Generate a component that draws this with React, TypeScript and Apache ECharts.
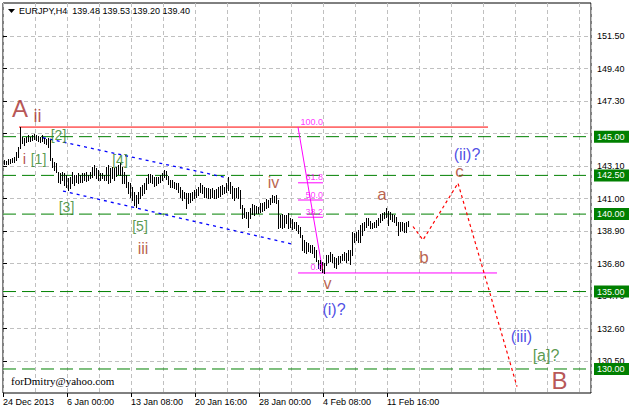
import React, { useEffect, useRef } from 'react';
import * as echarts from 'echarts';

// ---- data ----
const barHigh = [
  143.49, 143.43, 143.56, 143.56, 143.62, 143.69, 144.01, 144.33, 145.62, 144.98,
  144.91, 144.98, 145.11, 144.98, 145.11, 145.17, 145.11, 145.04, 144.98, 145.11,
  144.91, 144.85, 144.91, 144.79, 143.62, 143.37, 143.30, 142.72, 142.66, 142.72,
  142.66, 142.53, 142.33, 142.40, 142.72, 142.53, 142.53, 142.66, 142.53, 142.66,
  142.66, 142.72, 142.53, 142.72, 143.04, 143.17, 142.98, 142.85, 142.66, 142.66,
  142.53, 143.04, 143.17, 142.98, 143.04, 142.98, 143.04, 143.17, 143.30, 143.04,
  142.72, 142.53, 142.07, 142.01, 141.75, 141.43, 141.24, 141.43, 141.75, 141.88,
  142.01, 142.33, 142.59, 142.59, 142.53, 142.40, 142.40, 142.40, 142.53, 142.66,
  142.85, 142.78, 142.46, 142.20, 142.20, 142.07, 142.01, 142.01, 141.75, 141.56,
  141.43, 141.36, 141.36, 141.36, 141.43, 141.56, 141.62, 141.75, 142.01, 141.88,
  141.75, 141.69, 141.69, 141.62, 141.69, 141.56, 141.62, 141.75, 141.82, 141.88,
  141.75, 142.01, 142.40, 142.07, 141.82, 141.69, 141.69, 141.75, 141.56, 140.59,
  140.40, 140.14, 140.14, 140.40, 140.65, 140.59, 140.53, 140.46, 140.72, 140.72,
  140.78, 140.98, 140.91, 141.04, 141.24, 141.17, 141.24, 140.91, 139.94, 140.01,
  139.94, 139.94, 140.07, 139.75, 139.69, 139.49, 139.49, 139.30, 139.17, 138.65,
  138.33, 138.20, 138.14, 138.01, 138.01, 137.88, 137.68, 137.04, 137.04, 136.91,
  136.84, 137.36, 137.36, 137.55, 137.43, 137.23, 137.17, 137.30, 137.30, 137.43,
  137.55, 137.49, 137.68, 137.68, 138.85, 138.78, 138.85, 138.98, 139.30, 139.43,
  139.49, 139.75, 139.75, 139.56, 139.43, 139.49, 139.62, 139.75, 140.01, 140.07,
  140.14, 140.40, 140.20, 140.14, 140.01, 139.94, 139.81, 139.49, 139.49, 139.49,
  139.43, 139.49, 139.53,
];
const barLow = [
  143.24, 143.24, 143.24, 143.30, 143.37, 143.37, 143.49, 143.69, 144.27, 144.59,
  144.46, 144.66, 144.72, 144.72, 144.79, 144.85, 144.79, 144.72, 144.66, 144.72,
  144.59, 144.53, 144.33, 143.49, 143.04, 142.85, 142.72, 142.07, 142.01, 142.20,
  141.88, 141.75, 141.56, 141.69, 142.01, 141.88, 142.07, 142.01, 142.07, 142.07,
  142.20, 142.14, 142.20, 142.33, 142.40, 142.53, 142.33, 142.20, 142.20, 142.33,
  142.20, 142.20, 142.01, 142.07, 142.33, 142.20, 142.46, 142.59, 142.53, 142.01,
  142.01, 141.75, 141.36, 141.11, 140.91, 140.59, 140.46, 140.72, 141.04, 141.24,
  141.36, 141.62, 142.01, 142.07, 142.01, 141.82, 141.88, 142.01, 142.07, 142.20,
  142.40, 142.27, 141.95, 141.75, 141.75, 141.69, 141.62, 141.43, 141.11, 140.91,
  141.04, 140.40, 140.72, 140.78, 140.91, 141.04, 141.11, 141.24, 141.43, 141.36,
  141.11, 141.11, 141.04, 141.04, 141.11, 141.04, 141.04, 141.11, 141.17, 141.30,
  141.36, 141.43, 141.56, 141.36, 141.04, 140.91, 141.11, 141.04, 140.40, 139.75,
  139.81, 139.75, 139.17, 139.75, 140.01, 139.94, 140.07, 140.07, 140.14, 140.20,
  140.27, 140.40, 140.46, 140.65, 140.78, 140.78, 140.72, 139.10, 139.17, 139.10,
  139.17, 139.43, 139.10, 139.17, 139.04, 139.10, 138.98, 138.78, 138.52, 137.68,
  137.55, 137.49, 137.62, 137.55, 137.49, 137.23, 136.97, 136.52, 136.39, 136.26,
  136.20, 136.72, 136.91, 136.97, 136.91, 136.59, 136.52, 136.78, 136.91, 137.04,
  137.04, 136.91, 137.04, 136.78, 137.36, 138.20, 138.33, 138.20, 138.20, 138.65,
  138.98, 139.17, 139.30, 139.10, 139.10, 139.17, 139.17, 139.30, 139.49, 139.62,
  139.75, 139.81, 139.30, 139.69, 139.56, 139.49, 139.30, 138.65, 138.91, 138.98,
  138.85, 138.85, 139.20,
];
const lastBarOHLC = ['139.48', '139.53', '139.20', '139.40'];
const symbolName = 'EURJPY,H4';

const xTickIndex = [0, 32, 64, 96, 128, 160, 192];
const xTickLabels = ['24 Dec 2013', '6 Jan 00:00', '13 Jan 08:00', '20 Jan 16:00', '28 Jan 00:00', '4 Feb 08:00', '11 Feb 16:00'];
const yTicks = [130.5, 132.6, 134.7, 136.8, 138.9, 141.0, 143.1, 145.2, 147.3, 149.4, 151.5];

const levelPrices = [145.0, 142.5, 140.0, 135.0, 130.0];

const redLine = [[8, 145.62], [242.5, 145.62]];
const fibHigh = 145.62;
const fibLow = 136.2;
const fibFromIdx = 147.5;
const fibToIdx = 160;
const fibZeroEndIdx = 247;
const fibRatios = [0.382, 0.5, 0.618];
const fibLabels = [
  { text: '100.0', ratio: 1 },
  { text: '61.8', ratio: 0.618 },
  { text: '50.0', ratio: 0.5 },
  { text: '38.2', ratio: 0.382 },
  { text: '0.0', ratio: 0 },
];
const channelUpper = [[20, 144.93], [111.5, 142.36]];
const channelLower = [[30, 141.49], [145.5, 138.04]];
const projection = [[205, 139.2], [210, 138.33], [227.5, 142.0], [257, 128.86]];

const BROWN = '#A52A2A';
const BROWN2 = '#A83A22';
const GREEN_T = '#2F7F1F';
const BLUE_T = '#2222DD';

const waveLabels = [
  { text: 'A', i: 8.5, p: 146.85, color: BROWN, size: 24 },
  { text: 'ii', i: 17.25, p: 146.33, color: BROWN, size: 18 },
  { text: 'i', i: 10.75, p: 143.59, color: BROWN, size: 15 },
  { text: '[1]', i: 17.75, p: 143.53, color: GREEN_T, size: 14 },
  { text: '[2]', i: 27.75, p: 145.11, color: GREEN_T, size: 14 },
  { text: '[3]', i: 31.75, p: 140.49, color: GREEN_T, size: 14 },
  { text: '[4]', i: 58.5, p: 143.49, color: GREEN_T, size: 14 },
  { text: '[5]', i: 68.5, p: 139.23, color: GREEN_T, size: 14 },
  { text: 'iii', i: 70, p: 137.81, color: BROWN2, size: 16 },
  { text: 'iv', i: 135.25, p: 142.07, color: BROWN2, size: 16 },
  { text: 'v', i: 162.25, p: 135.49, color: BROWN2, size: 16 },
  { text: '(i)?', i: 165.5, p: 133.81, color: BLUE_T, size: 16 },
  { text: 'a', i: 189.5, p: 141.24, color: BROWN2, size: 17 },
  { text: 'b', i: 210.5, p: 137.23, color: BROWN2, size: 17 },
  { text: 'c', i: 228.25, p: 142.78, color: BROWN2, size: 17 },
  { text: '(ii)?', i: 232, p: 143.82, color: BLUE_T, size: 16 },
  { text: '(iii)', i: 259.25, p: 132.07, color: BLUE_T, size: 16 },
  { text: '[a]?', i: 271.5, p: 130.84, color: GREEN_T, size: 16 },
  { text: 'B', i: 278.25, p: 129.23, color: BROWN, size: 24 },
];

const FONT = '"Liberation Sans", Arial, sans-serif';

function lineSeries(data: number[][], color: string, type: any, width = 1, z = 3) {
  return {
    type: 'line',
    data,
    symbol: 'none',
    silent: true,
    z,
    lineStyle: { color, width, type },
    animation: false,
  };
}

export default function App() {
  const ref = useRef<HTMLDivElement>(null);
  useEffect(() => {
    document.body.style.margin = '0';
    const chart = echarts.init(ref.current!, null, { renderer: 'svg' });
    const range = fibHigh - fibLow;
    const series: any[] = [];

    levelPrices.forEach((lv) => {
      series.push({
        ...lineSeries([[0, lv], [294, lv]], '#008000', [13, 6], 1, 2),
        endLabel: {
          show: true,
          formatter: lv.toFixed(2),
          color: '#ffffff',
          backgroundColor: '#008000',
          fontSize: 9,
          fontFamily: FONT,
          lineHeight: 11,
          padding: [1, 6, 0, 3],
          distance: 3,
        },
      });
    });

    series.push(lineSeries(redLine, '#FF0000', 'solid', 1, 4));
    series.push(lineSeries([[fibFromIdx, fibHigh], [fibToIdx, fibLow]], '#FF00FF', 'solid', 1, 4));
    fibRatios.forEach((r) => {
      const v = fibLow + range * r;
      series.push(lineSeries([[fibFromIdx, v], [fibToIdx, v]], '#FF00FF', 'solid', 1, 4));
    });
    series.push(lineSeries([[fibFromIdx, fibLow], [fibZeroEndIdx, fibLow]], '#FF00FF', 'solid', 1, 4));
    series.push(lineSeries(channelUpper, '#0000FF', [3, 4], 1.3, 4));
    series.push(lineSeries(channelLower, '#0000FF', [3, 4], 1.3, 4));
    series.push(lineSeries(projection, '#FF0000', [3, 3], 1.2, 4));

    series.push({
      type: 'custom',
      z: 5,
      silent: true,
      data: barHigh.map((h, i) => [i, barLow[i], h]),
      renderItem: (params: any, api: any) => {
        const i = api.value(0);
        const lo = api.coord([i, api.value(1)]);
        const hi = api.coord([i, api.value(2)]);
        const x = Math.round(lo[0]) + 1.5;
        return {
          type: 'line',
          shape: { x1: x, y1: Math.round(lo[1]) + 1, x2: x, y2: Math.round(hi[1]) },
          style: { stroke: '#000', lineWidth: 1 },
        };
      },
    });

    series.push({
      type: 'scatter',
      z: 6,
      silent: true,
      symbolSize: 1,
      itemStyle: { color: 'transparent' },
      data: waveLabels.map((w) => ({
        value: [w.i, w.p],
        label: {
          show: true,
          position: 'inside',
          formatter: w.text,
          color: w.color,
          fontSize: w.size,
          fontFamily: FONT,
        },
      })),
    });

    series.push({
      type: 'scatter',
      z: 6,
      silent: true,
      symbolSize: 1,
      itemStyle: { color: 'transparent' },
      data: fibLabels.map((f) => ({
        value: [fibToIdx, fibLow + range * f.ratio],
        label: {
          show: true,
          position: 'inside',
          align: 'right',
          verticalAlign: 'bottom',
          offset: [0, -1],
          formatter: f.text,
          color: '#FF00FF',
          fontSize: 9,
          fontFamily: FONT,
        },
      })),
    });

    const option: any = {
      animation: false,
      backgroundColor: '#ffffff',
      grid: {
        left: 3, top: 3, width: 588, height: 390,
        show: true, borderColor: '#000', borderWidth: 1, backgroundColor: 'transparent',
      },
      xAxis: [
        {
          type: 'value', min: 0, max: 294, interval: 16, position: 'bottom',
          axisLine: { show: false }, axisTick: { show: false }, axisLabel: { show: false },
          splitLine: { show: true, lineStyle: { color: '#C0C0C0', type: [4, 3], width: 1 } },
        },
        {
          type: 'value', min: 0, max: 294, position: 'bottom',
          axisLine: { show: false },
          axisTick: { show: true, customValues: xTickIndex, length: 4, lineStyle: { color: '#000' } },
          axisLabel: {
            show: true, customValues: xTickIndex,
            formatter: (v: number) => xTickLabels[xTickIndex.indexOf(v)] ?? '',
            align: 'left', margin: 4, color: '#000', fontSize: 9, fontFamily: FONT,
          },
          splitLine: { show: false },
        },
      ],
      yAxis: {
        type: 'value', position: 'right', min: 128.45, max: 153.63, scale: true,
        axisLine: { show: false },
        axisTick: { show: true, customValues: yTicks, length: 4, lineStyle: { color: '#000' } },
        axisLabel: {
          customValues: yTicks, formatter: (v: number) => v.toFixed(2),
          margin: 6, color: '#000', fontSize: 9, fontFamily: FONT,
        },
        splitLine: { show: true, lineStyle: { color: '#C0C0C0', type: [4, 3], width: 1 } },
      },
      graphic: [
        { type: 'polygon', shape: { points: [[8, 9], [15, 9], [11.5, 13]] }, style: { fill: '#000' }, z: 10 },
        {
          type: 'text', left: 19, top: 6, z: 10,
          style: { text: symbolName + '  ' + lastBarOHLC.join(' '), fill: '#000', font: '9px ' + FONT },
        },
        {
          type: 'text', left: 11, top: 375, z: 10,
          style: { text: 'forDmitry@yahoo.com', fill: '#000', font: '11px "Liberation Serif", "Times New Roman", serif' },
        },
      ],
      series,
    };
    chart.setOption(option);
    return () => chart.dispose();
  }, []);
  return <div ref={ref} style={{ position: 'fixed', left: 0, top: 0, width: 629, height: 410 }} />;
}
